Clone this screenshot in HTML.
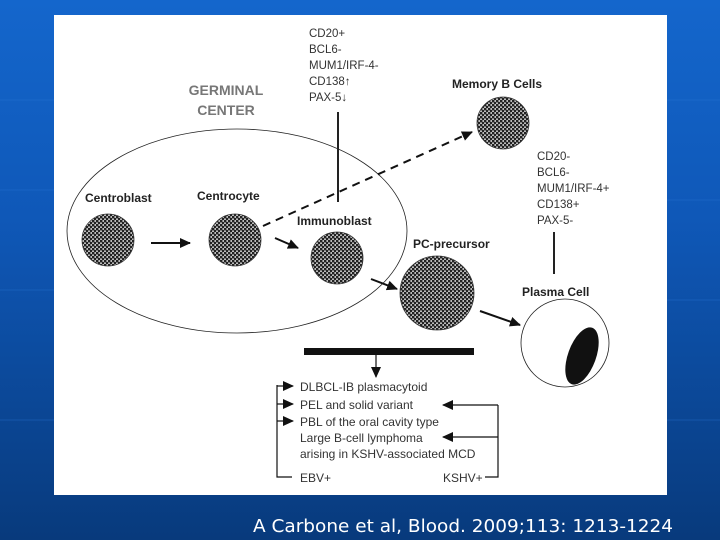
<!DOCTYPE html>
<html><head><meta charset="utf-8"><style>
html,body{margin:0;padding:0;width:720px;height:540px;overflow:hidden}
body{background:linear-gradient(180deg,#1466cc 0%,#0f58b8 40%,#0b4796 75%,#083a7c 100%);position:relative;font-family:"Liberation Sans",sans-serif}
svg{position:absolute;left:0;top:0}
</style></head><body>
<svg width="720" height="540" viewBox="0 0 720 540" xmlns="http://www.w3.org/2000/svg">
<defs>
<pattern id="chk" width="4" height="4" patternUnits="userSpaceOnUse">
<rect width="4" height="4" fill="#bbb"/><rect width="2.4" height="2.4" fill="#222"/><rect x="2" y="2" width="2.4" height="2.4" fill="#222"/>
</pattern>
<marker id="ah" markerWidth="12" markerHeight="12" refX="10" refY="6" orient="auto" markerUnits="userSpaceOnUse">
<path d="M0,1 L11,6 L0,11 Z" fill="#111"/></marker>
</defs>
<g stroke="#2b78d8" stroke-width="1" opacity="0.35">
<line x1="0" y1="100" x2="54" y2="100"/><line x1="0" y1="190" x2="54" y2="190"/><line x1="0" y1="290" x2="54" y2="290"/><line x1="0" y1="420" x2="54" y2="420"/>
<line x1="667" y1="100" x2="720" y2="100"/><line x1="667" y1="200" x2="720" y2="200"/><line x1="667" y1="300" x2="720" y2="300"/><line x1="667" y1="420" x2="720" y2="420"/>
</g>
<rect x="54" y="15" width="613" height="480" fill="#fff"/>
<ellipse cx="237" cy="231" rx="170" ry="102" fill="none" stroke="#222" stroke-width="0.8"/>
<g font-weight="bold" font-size="12" fill="#222">
<text x="85" y="202">Centroblast</text>
<text x="197" y="200">Centrocyte</text>
<text x="297" y="225">Immunoblast</text>
<text x="413" y="248">PC-precursor</text>
<text x="452" y="88">Memory B Cells</text>
<text x="522" y="296">Plasma Cell</text>
</g>
<g font-weight="bold" font-size="14" fill="#777" text-anchor="middle">
<text x="226" y="95">GERMINAL</text><text x="226" y="115">CENTER</text>
</g>
<g font-size="11.5" fill="#333">
<text x="309" y="37">CD20+</text><text x="309" y="53">BCL6-</text><text x="309" y="69">MUM1/IRF-4-</text><text x="309" y="85">CD138↑</text><text x="309" y="101">PAX-5↓</text>
<text x="537" y="160">CD20-</text><text x="537" y="176">BCL6-</text><text x="537" y="192">MUM1/IRF-4+</text><text x="537" y="208">CD138+</text><text x="537" y="224">PAX-5-</text>
</g>
<line x1="338" y1="112" x2="338" y2="202" stroke="#222" stroke-width="2"/>
<line x1="554" y1="232" x2="554" y2="274" stroke="#222" stroke-width="2"/>
<g fill="url(#chk)" stroke="#333" stroke-width="0.8">
<circle cx="108" cy="240" r="26"/><circle cx="235" cy="240" r="26"/><circle cx="337" cy="258" r="26"/>
<circle cx="437" cy="293" r="37"/><circle cx="503" cy="123" r="26"/>
</g>
<circle cx="565" cy="343" r="44" fill="#fff" stroke="#222" stroke-width="0.8"/>
<ellipse cx="582" cy="356" rx="14" ry="30" transform="rotate(20 582 356)" fill="#111"/>
<g stroke="#111" stroke-width="2" fill="none">
<line x1="151" y1="243" x2="190" y2="243" marker-end="url(#ah)"/>
<line x1="275" y1="238" x2="298" y2="248" marker-end="url(#ah)"/>
<line x1="371" y1="279" x2="397" y2="289" marker-end="url(#ah)"/>
<line x1="480" y1="311" x2="520" y2="325" marker-end="url(#ah)"/>
<line x1="263" y1="226" x2="472" y2="132" stroke-dasharray="8,6" marker-end="url(#ah)"/>
<line x1="376" y1="354" x2="376" y2="377" stroke-width="1.2" marker-end="url(#ah)"/>
</g>
<rect x="304" y="348" width="170" height="7" fill="#111"/>
<g stroke="#111" stroke-width="1.2" fill="none">
<polyline points="292,477 277,477 277,385"/>
<line x1="277" y1="386" x2="293" y2="386" marker-end="url(#ah)"/>
<line x1="277" y1="404" x2="293" y2="404" marker-end="url(#ah)"/>
<line x1="277" y1="421" x2="293" y2="421" marker-end="url(#ah)"/>
<polyline points="485,477 498,477 498,405"/>
<line x1="498" y1="405" x2="443" y2="405" marker-end="url(#ah)"/>
<line x1="498" y1="437" x2="443" y2="437" marker-end="url(#ah)"/>
</g>
<g font-size="12" fill="#333">
<text x="300" y="391">DLBCL-IB plasmacytoid</text>
<text x="300" y="409">PEL and solid variant</text>
<text x="300" y="426">PBL of the oral cavity type</text>
<text x="300" y="442">Large B-cell lymphoma</text>
<text x="300" y="458">arising in KSHV-associated MCD</text>
<text x="300" y="482">EBV+</text>
<text x="443" y="482">KSHV+</text>
</g>
<text x="253" y="532" font-family="'DejaVu Sans',sans-serif" font-size="18" fill="#fff" textLength="420" lengthAdjust="spacingAndGlyphs">A Carbone et al, Blood. 2009;113: 1213-1224</text>
</svg>
</body></html>
